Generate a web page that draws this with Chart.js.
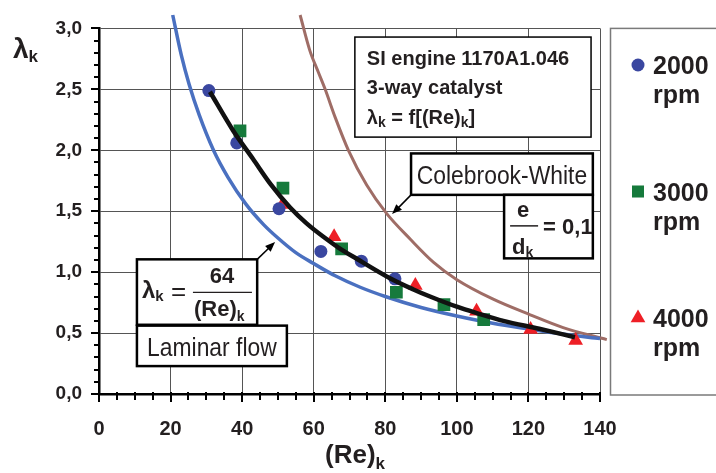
<!DOCTYPE html>
<html>
<head>
<meta charset="utf-8">
<script src="https://cdn.jsdelivr.net/npm/chart.js@4"></script>
<style>
  body { margin: 0; background: #fff; }
  canvas { display: block; }
</style>
</head>
<body>
<canvas id="chart" width="716" height="473"></canvas>
<script>
const re2000 = [30.7, 38.5, 50.3, 62.0, 73.3, 82.7];
const lam2000 = [2.49, 2.06, 1.52, 1.17, 1.09, 0.945];
const re3000 = [39.4, 51.4, 67.8, 83.1, 96.4, 107.5];
const lam3000 = [2.16, 1.69, 1.19, 0.835, 0.733, 0.61];
const re4000 = [51.3, 65.7, 88.4, 105.5, 120.6, 133.2];
const lam4000 = [1.555, 1.29, 0.89, 0.68, 0.53, 0.44];

// Fitted curve (black)
const fitRe = [31, 37.5, 43, 48, 53.4, 58, 62.7, 67, 72, 81.3, 87.7, 92.5, 100, 106, 113, 123, 133];
const fitLam = [2.48, 2.16, 1.93, 1.72, 1.53, 1.40, 1.29, 1.20, 1.11, 0.95, 0.86, 0.80, 0.716, 0.66, 0.60, 0.535, 0.466];

// Laminar flow curve (blue)
const lamRe = [20.6, 23, 25.2, 28, 32, 36, 41, 46, 50, 55, 60, 66, 73, 80, 90, 100, 110, 120, 130, 140];
const lamLam = [3.11, 2.78, 2.54, 2.29, 2.0, 1.78, 1.56, 1.39, 1.28, 1.16, 1.07, 0.97, 0.876, 0.80, 0.71, 0.64, 0.58, 0.533, 0.49, 0.455];

// Colebrook-White curve (brown)
const cwRe = [56.2, 58.9, 61.3, 63.2, 66.0, 69.7, 74.8, 80.4, 87.0, 93.5, 99.9, 110, 120.5, 129.7, 141.9];
const cwLam = [3.11, 2.82, 2.64, 2.50, 2.27, 2.00, 1.715, 1.48, 1.27, 1.08, 0.94, 0.78, 0.65, 0.545, 0.446];

const seriesLabels = ['2000', '3000', '4000'];
const xTickStep = 5, xLabelStep = 20;
const yTickStep = 0.1, yLabelStep = 0.5;

const FONT = "'Liberation Sans', Arial, sans-serif";
const TXT = '#231f20';

function pts(xs, ys) {
    return xs.map((v, i) => ({ x: v, y: ys[i] }));
}
function isMultiple(v, step) {
    const q = v / step;
    return Math.abs(q - Math.round(q)) < 1e-6;
}

// small text helper: segments drawn one after another
function rich(ctx, x, y, segs) {
    segs.forEach(s => {
        ctx.save();
        ctx.font = s.f;
        ctx.textAlign = 'left';
        ctx.textBaseline = 'alphabetic';
        const sx = s.sx || 1;
        ctx.translate(x, y + (s.dy || 0));
        ctx.scale(sx, 1);
        ctx.fillText(s.t, 0, 0);
        x += ctx.measureText(s.t).width * sx;
        ctx.restore();
    });
    return x;
}
function textW(ctx, t, f, sx) {
    ctx.save();
    ctx.font = f;
    const w = ctx.measureText(t).width * (sx || 1);
    ctx.restore();
    return w;
}
function box(ctx, l, t, r, b, lw) {
    ctx.save();
    ctx.fillStyle = '#fff';
    ctx.fillRect(l, t, r - l, b - t);
    ctx.strokeStyle = '#000';
    ctx.lineWidth = lw;
    ctx.strokeRect(l, t, r - l, b - t);
    ctx.restore();
}
function arrow(ctx, x1, y1, x2, y2) {
    const a = Math.atan2(y2 - y1, x2 - x1);
    ctx.save();
    ctx.strokeStyle = '#000';
    ctx.fillStyle = '#000';
    ctx.lineWidth = 1.5;
    ctx.beginPath();
    ctx.moveTo(x1, y1);
    ctx.lineTo(x2 - 6 * Math.cos(a), y2 - 6 * Math.sin(a));
    ctx.stroke();
    ctx.beginPath();
    ctx.moveTo(x2, y2);
    ctx.lineTo(x2 - 10 * Math.cos(a) + 4 * Math.sin(a), y2 - 10 * Math.sin(a) - 4 * Math.cos(a));
    ctx.lineTo(x2 - 10 * Math.cos(a) - 4 * Math.sin(a), y2 - 10 * Math.sin(a) + 4 * Math.cos(a));
    ctx.closePath();
    ctx.fill();
    ctx.restore();
}

const decor = {
    id: 'decor',
    afterDraw(chart) {
        const ctx = chart.ctx;
        const a = chart.chartArea;
        const xs = chart.scales.x, ys = chart.scales.y;
        const X = v => xs.getPixelForValue(v), Y = v => ys.getPixelForValue(v);

        // tick marks, major longer
        ctx.save();
        ctx.strokeStyle = '#000';
        ctx.lineWidth = 2;
        ys.ticks.forEach(t => {
            const p = Math.round(Y(t.value));
            const len = isMultiple(t.value, yLabelStep) ? 8 : 5;
            ctx.beginPath();
            ctx.moveTo(a.left - len, p);
            ctx.lineTo(a.left + 1, p);
            ctx.stroke();
        });
        xs.ticks.forEach(t => {
            const p = Math.round(X(t.value));
            const len = isMultiple(t.value, xLabelStep) ? 8 : 6;
            ctx.beginPath();
            ctx.moveTo(p, a.bottom - 2);
            ctx.lineTo(p, a.bottom + len);
            ctx.stroke();
        });
        ctx.restore();

        ctx.fillStyle = TXT;
        // axis titles
        rich(ctx, 13, 58, [{ t: 'λ', f: 'bold 28px ' + FONT }, { t: 'k', f: 'bold 17px ' + FONT, dy: 4 }]);
        rich(ctx, 325, 463, [{ t: '(Re)', f: 'bold 26px ' + FONT }, { t: 'k', f: 'bold 17px ' + FONT, dy: 6 }]);

        // info box
        let l = X(71.5), t = Y(2.929);
        box(ctx, l, t, X(137.5), Y(2.108), 1.5);
        ctx.fillStyle = TXT;
        const bf = 'bold 20px ' + FONT, sf = 'bold 14px ' + FONT;
        rich(ctx, l + 12, t + 28, [{ t: 'SI engine 1170A1.046', f: bf }]);
        rich(ctx, l + 12, t + 57, [{ t: '3-way catalyst', f: bf }]);
        rich(ctx, l + 12, t + 87, [
            { t: 'λ', f: bf }, { t: 'k', f: sf, dy: 3 }, { t: ' = f[(Re)', f: bf },
            { t: 'k', f: sf, dy: 3 }, { t: ']', f: bf }
        ]);

        // Colebrook-White
        l = X(87.2); t = Y(1.974);
        let r = X(138.0), b = Y(1.634);
        box(ctx, l, t, r, b, 2.5);
        const nf = '26px ' + FONT;
        ctx.fillStyle = TXT;
        let w = textW(ctx, 'Colebrook-White', nf, 0.88);
        rich(ctx, (l + r) / 2 - w / 2, t + 31, [{ t: 'Colebrook-White', f: nf, sx: 0.88 }]);
        arrow(ctx, l, b, X(81.9), Y(1.476));

        // e / d_k = 0,1
        l = X(113.2); t = Y(1.634);
        box(ctx, l, t, X(138.0), Y(1.113), 2.5);
        ctx.fillStyle = TXT;
        const ff = 'bold 22px ' + FONT;
        w = textW(ctx, 'e', ff);
        rich(ctx, l + 19 - w / 2, t + 22, [{ t: 'e', f: ff }]);
        rich(ctx, l + 8, t + 59, [{ t: 'd', f: ff }, { t: 'k', f: sf, dy: 3 }]);
        ctx.save();
        ctx.strokeStyle = TXT; ctx.lineWidth = 1.5;
        ctx.beginPath(); ctx.moveTo(l + 6, t + 31); ctx.lineTo(l + 34, t + 31); ctx.stroke();
        ctx.restore();
        rich(ctx, l + 39, t + 39, [{ t: '= 0,1', f: ff }]);

        // lambda = 64 / (Re)_k
        l = X(10.6); t = Y(1.105);
        r = X(44.2); b = Y(0.568);
        box(ctx, l, t, r, b, 2.5);
        ctx.fillStyle = TXT;
        rich(ctx, l + 5, t + 39, [{ t: 'λ', f: 'bold 24px ' + FONT }, { t: 'k', f: 'bold 15px ' + FONT, dy: 3 }]);
        rich(ctx, l + 34, t + 41, [{ t: '=', f: '26px ' + FONT }]);
        w = textW(ctx, '64', ff);
        rich(ctx, l + 85 - w / 2, t + 24, [{ t: '64', f: ff }]);
        ctx.save();
        ctx.strokeStyle = TXT; ctx.lineWidth = 1.2;
        ctx.beginPath(); ctx.moveTo(l + 56, t + 33); ctx.lineTo(l + 115, t + 33); ctx.stroke();
        ctx.restore();
        rich(ctx, l + 57, t + 57, [{ t: '(Re)', f: ff }, { t: 'k', f: sf, dy: 5 }]);
        arrow(ctx, r, t, X(49.2), Y(1.247));

        // Laminar flow
        l = X(10.6); t = Y(0.561);
        r = X(52.5);
        box(ctx, l, t, r, Y(0.229), 2.5);
        ctx.fillStyle = TXT;
        w = textW(ctx, 'Laminar flow', nf, 0.88);
        rich(ctx, (l + r) / 2 - w / 2, t + 30, [{ t: 'Laminar flow', f: nf, sx: 0.88 }]);

        // legend panel
        ctx.save();
        ctx.strokeStyle = '#7a7a7a';
        ctx.lineWidth = 1.5;
        ctx.strokeRect(610.5, a.top, 120, a.bottom - a.top + 1);
        ctx.restore();
        const lf = 'bold 25px ' + FONT;
        seriesLabels.forEach((lab, i) => {
            const ds = chart.data.datasets.find(d => d.label === lab);
            const cy = 65 + i * 126.5;
            ctx.save();
            ctx.fillStyle = ds.backgroundColor;
            const rad = ds.pointStyle === 'circle' ? 6.5 : 8.5;
            Chart.helpers.drawPoint(ctx, { pointStyle: ds.pointStyle, radius: rad, rotation: 0, borderWidth: 0 }, 638, cy);
            ctx.restore();
            ctx.fillStyle = TXT;
            rich(ctx, 653, cy + 9, [{ t: lab, f: lf }]);
            rich(ctx, 653, cy + 38, [{ t: 'rpm', f: lf }]);
        });
    }
};

const tickFont = { family: FONT, size: 19, weight: 'bold' };

new Chart(document.getElementById('chart'), {
    type: 'scatter',
    data: {
        datasets: [
            {
                label: 'fit', data: pts(fitRe, fitLam), showLine: true, order: 0,
                borderColor: '#111', borderWidth: 4.5, pointRadius: 0,
                cubicInterpolationMode: 'monotone'
            },
            {
                label: '2000', data: pts(re2000, lam2000), order: 1,
                pointStyle: 'circle', pointRadius: 6.5, backgroundColor: '#3a47a0', borderWidth: 0
            },
            {
                label: '3000', data: pts(re3000, lam3000), order: 1,
                pointStyle: 'rect', pointRadius: 9, backgroundColor: '#167a3c', borderWidth: 0
            },
            {
                label: '4000', data: pts(re4000, lam4000), order: 1,
                pointStyle: 'triangle', pointRadius: 8.5, backgroundColor: '#ee1f26', borderWidth: 0
            },
            {
                label: 'laminar', data: pts(lamRe, lamLam), showLine: true, order: 2, clip: false,
                borderColor: '#4a70c0', borderWidth: 3.5, pointRadius: 0,
                cubicInterpolationMode: 'monotone'
            },
            {
                label: 'colebrook', data: pts(cwRe, cwLam), showLine: true, order: 2, clip: false,
                borderColor: '#9f6d66', borderWidth: 3, pointRadius: 0,
                cubicInterpolationMode: 'monotone'
            }
        ]
    },
    options: {
        responsive: false,
        animation: false,
        devicePixelRatio: 1,
        layout: { padding: { top: 14, right: 116, left: 0, bottom: 0 } },
        plugins: { legend: { display: false }, tooltip: { enabled: false } },
        scales: {
            x: {
                type: 'linear', min: 0, max: 140,
                ticks: {
                    stepSize: xTickStep, autoSkip: false, maxRotation: 0, padding: 23,
                    color: TXT, font: { family: FONT, size: 20, weight: 'bold' },
                    callback: v => isMultiple(v, xLabelStep) ? String(Math.round(v)) : ''
                },
                grid: {
                    drawTicks: false, lineWidth: 1,
                    color: c => c.tick && isMultiple(c.tick.value, xLabelStep) ? '#555' : 'rgba(0,0,0,0)'
                },
                border: { color: '#000', width: 2.5 },
                afterFit: s => { s.height = 79; }
            },
            y: {
                type: 'linear', min: 0, max: 3,
                ticks: {
                    stepSize: yTickStep, autoSkip: false, padding: 17,
                    color: TXT, font: tickFont,
                    callback: v => isMultiple(v, yLabelStep) ? v.toFixed(1).replace('.', ',') : ''
                },
                grid: {
                    drawTicks: false, lineWidth: 1,
                    color: c => c.tick && isMultiple(c.tick.value, yLabelStep) ? '#555' : 'rgba(0,0,0,0)'
                },
                border: { color: '#000', width: 2.5 },
                afterFit: s => { s.width = 99; }
            }
        }
    },
    plugins: [decor]
});
</script>
</body>
</html>
